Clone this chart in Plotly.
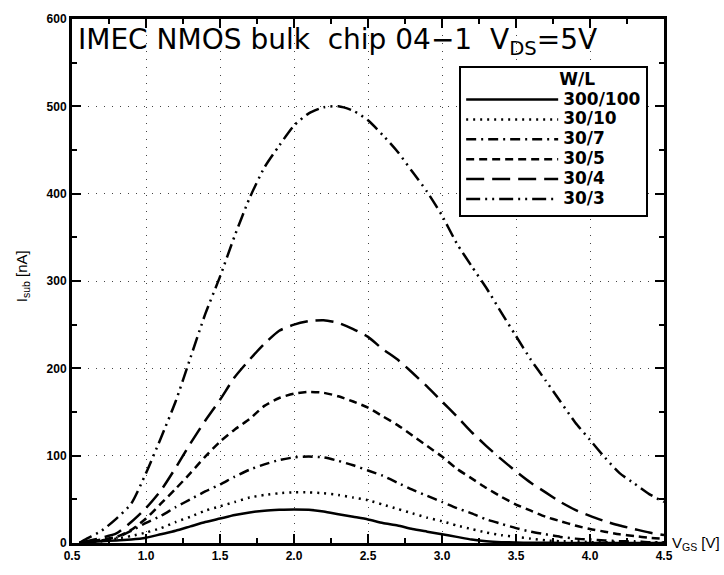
import plotly.graph_objects as go

V = [0.55, 0.6, 0.7, 0.8, 0.9, 1.0, 1.1, 1.2, 1.3, 1.4, 1.5, 1.6, 1.7, 1.8, 1.9, 2.0,
     2.1, 2.2, 2.3, 2.4, 2.5, 2.6, 2.7, 2.8, 2.9, 3.0, 3.1, 3.2, 3.3, 3.4, 3.5,
     3.6, 3.7, 3.8, 3.9, 4.0, 4.1, 4.2, 4.3, 4.4, 4.5]

I_300_100 = [0, 1, 2, 3, 4, 6, 10, 14, 19, 24, 28, 32, 35, 37, 38, 38.5,
             38, 36, 33, 30, 27, 23, 20, 16, 13, 10, 7, 4, 2, 1, 0.5,
             0.3, 0.2, 0.1, 0, 0, 0, 0, 0, 0, 0]
I_30_10 = [0, 1, 2, 5, 8, 12, 17, 24, 30, 37, 42, 47, 52, 55, 57, 58,
           58, 57, 55, 52, 49, 44, 39, 34, 29, 25, 20, 16, 12, 9, 7,
           5, 3, 2, 2, 1, 1, 1, 0.5, 0.3, 0.2]
I_30_7 = [0, 1, 3, 6, 14, 23, 31, 41, 50, 59, 67, 76, 84, 90, 95, 98,
          99, 98, 94, 89, 83, 77, 69, 61, 54, 47, 40, 34, 27, 22, 17,
          13, 10, 7, 5, 4, 3, 2, 2, 1, 1]
I_30_5 = [0, 1, 4, 7, 15, 28, 45, 62, 80, 99, 116, 130, 142, 157, 166, 171,
          173, 172, 168, 162, 155, 145, 135, 123, 111, 99, 85, 74, 63, 53, 44,
          37, 30, 25, 20, 16, 13, 10, 8, 6, 5]
I_30_4 = [0, 2, 6, 11, 24, 40, 60, 86, 114, 140, 164, 190, 210, 228, 243, 250,
          254, 255, 252, 245, 236, 222, 210, 195, 179, 162, 145, 127, 111, 96, 82,
          69, 58, 47, 38, 31, 25, 20, 16, 12, 9]
I_30_3 = [0, 5, 14, 28, 45, 80, 120, 162, 212, 262, 305, 352, 395, 430, 455, 478,
          492, 499, 500, 495, 484, 467, 448, 425, 402, 375, 343, 317, 292, 264, 237,
          210, 186, 162, 138, 118, 98, 80, 68, 56, 47]

labels = ["300/100", "30/10", "30/7", "30/5", "30/4", "30/3"]
series = [I_300_100, I_30_10, I_30_7, I_30_5, I_30_4, I_30_3]
dashes = ["solid", "2px,5px", "10px,5px,2px,5px", "8px,5px", "18px,8px",
          "14px,5px,2px,5px,2px,5px"]

x_ticks = [0.5, 1.0, 1.5, 2.0, 2.5, 3.0, 3.5, 4.0, 4.5]
y_ticks = [0, 100, 200, 300, 400, 500, 600]

fig = go.Figure()
for lab, ys, d in zip(labels, series, dashes):
    fig.add_trace(go.Scatter(x=V, y=ys, mode="lines",
                             name='<span style="font-size:17px">' + lab + '</span>',
                             line=dict(color="black", width=2.5, dash=d, shape="spline", smoothing=0.6)))

axis_common = dict(showline=True, linecolor="black", linewidth=3, mirror="ticks",
                   ticks="inside", ticklen=9, tickwidth=1.5, tickcolor="black",
                   showgrid=True, gridcolor="#444", griddash="1px,7px", gridwidth=1,
                   zeroline=False,
                   tickfont=dict(family="Liberation Sans", size=12, color="black", weight="bold"))

fig.update_xaxes(range=[0.5, 4.5], tickvals=x_ticks, tickformat=".1f",
                 minor=dict(ticks="inside", ticklen=5, dtick=0.25, tick0=0.5, tickcolor="black", showgrid=False),
                 **axis_common)
fig.update_yaxes(range=[0, 600], tickvals=y_ticks,
                 minor=dict(ticks="inside", ticklen=5, dtick=50, tickcolor="black", showgrid=False),
                 **axis_common)

fig.update_layout(
    width=724, height=575,
    margin=dict(l=72, r=60, t=14, b=23),
    plot_bgcolor="white", paper_bgcolor="white",
    font=dict(family="Liberation Sans", color="black"),
    showlegend=True,
    legend=dict(x=0.654, y=0.911, xanchor="left", yanchor="top",
                bgcolor="white", bordercolor="black", borderwidth=2,
                font=dict(family="DejaVu Sans", size=13, color="black", weight="bold"),
                itemwidth=92,
                title=dict(text='<span style="font-size:17px">' + '&nbsp;' * 8 + 'W/L</span>',
                           side="top center",
                           font=dict(family="DejaVu Sans", size=13, weight="bold"))),
    annotations=[
        dict(text="IMEC NMOS bulk  chip 04\u22121  V<sub>DS</sub>=5V", xref="paper", yref="paper",
             x=0.0, y=1.0, xanchor="left", yanchor="top", xshift=4, yshift=-2, showarrow=False,
             font=dict(family="DejaVu Sans", size=28, color="black")),
        dict(text="V<sub>GS</sub> [V]", xref="paper", yref="paper", x=1.0, y=0.0,
             xanchor="left", yanchor="middle", xshift=6, showarrow=False,
             font=dict(family="Liberation Sans", size=15, color="black")),
        dict(text="I<sub>sub</sub> [nA]", xref="paper", yref="paper", x=0.0, y=0.509,
             xanchor="center", yanchor="middle", xshift=-50, textangle=-90, showarrow=False,
             font=dict(family="Liberation Sans", size=15, color="black")),
    ],
)

fig.write_html("out.html")
